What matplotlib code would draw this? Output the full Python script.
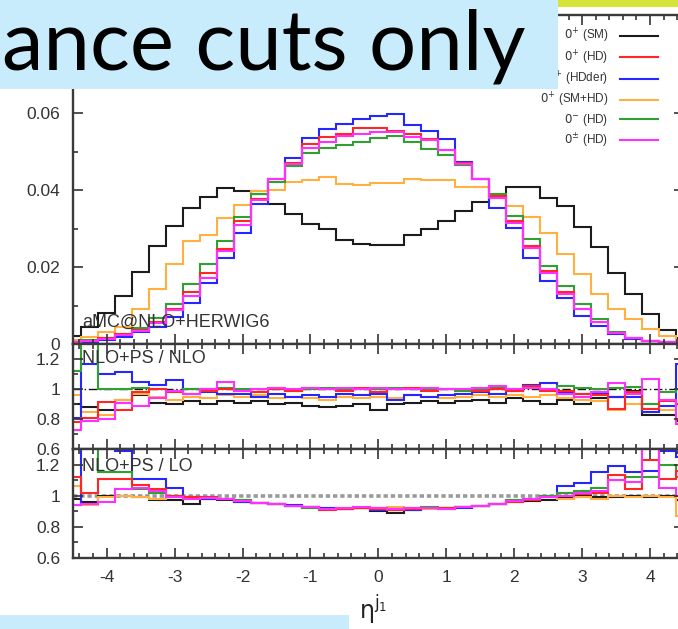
import numpy as np
import matplotlib
matplotlib.use('Agg')
import matplotlib.pyplot as plt
from matplotlib.patches import Rectangle
from matplotlib.ticker import MultipleLocator, FixedLocator, FixedFormatter

plt.rcParams['font.family'] = ['Liberation Sans', 'DejaVu Sans']
plt.rcParams['axes.unicode_minus'] = False

# ---------------- data ----------------
eta_centers = np.arange(-4.5, 4.5001, 0.25)   # bin centres, width 0.25
bin_width = 0.25

labels = [r'$0^{+}$ (SM)', r'$0^{+}$ (HD)', r'$0^{+}$ (HDder)',
          r'$0^{+}$ (SM+HD)', r'$0^{-}$ (HD)', r'$0^{\pm}$ (HD)']
colors = ['#1c1c1c', '#ff2626', '#2626ff', '#ffb040', '#30a030', '#ff30ff']

main_SM = [0.0020, 0.0045, 0.0080, 0.0125, 0.0188, 0.0255, 0.0306, 0.0354, 0.0382,
           0.0406, 0.0398, 0.0390, 0.0365, 0.0338, 0.0311, 0.0298, 0.0270, 0.0260,
           0.0256,
           0.0257, 0.0283, 0.0298, 0.0320, 0.0345, 0.0370, 0.0385, 0.0408, 0.0408,
           0.0380, 0.0358, 0.0304, 0.0252, 0.0185, 0.0130, 0.0078, 0.0036, 0.0015]
main_HD = [0.0005, 0.0009, 0.0015, 0.0025, 0.0036, 0.0058, 0.0092, 0.0135, 0.0185,
           0.0247, 0.0320, 0.0378, 0.0428, 0.0470, 0.0520, 0.0537, 0.0545, 0.0562,
           0.0562,
           0.0553, 0.0545, 0.0532, 0.0504, 0.0470, 0.0430, 0.0385, 0.0320, 0.0255,
           0.0190, 0.0135, 0.0092, 0.0057, 0.0028, 0.0015, 0.0009, 0.0005, 0.0003]
main_HDder = [0.0004, 0.0006, 0.0010, 0.0018, 0.0030, 0.0045, 0.0070, 0.0107, 0.0159,
              0.0224, 0.0289, 0.0363, 0.0428, 0.0484, 0.0536, 0.0560, 0.0572, 0.0585,
              0.0592,
              0.0597, 0.0569, 0.0553, 0.0532, 0.0474, 0.0430, 0.0354, 0.0302, 0.0224,
              0.0164, 0.0120, 0.0073, 0.0047, 0.0026, 0.0013, 0.0008, 0.0005, 0.0003]
main_SMHD = [0.0010, 0.0018, 0.0030, 0.0045, 0.0090, 0.0143, 0.0207, 0.0267, 0.0283,
             0.0328, 0.0360, 0.0397, 0.0400, 0.0422, 0.0426, 0.0435, 0.0415, 0.0413,
             0.0418,
             0.0418, 0.0429, 0.0425, 0.0425, 0.0409, 0.0408, 0.0390, 0.0358, 0.0330,
             0.0289, 0.0234, 0.0182, 0.0130, 0.0090, 0.0065, 0.0039, 0.0020, 0.0010]
main_0m = [0.0006, 0.0010, 0.0016, 0.0027, 0.0042, 0.0068, 0.0105, 0.0156, 0.0208,
           0.0268, 0.0330, 0.0390, 0.0422, 0.0462, 0.0497, 0.0510, 0.0518, 0.0525,
           0.0535,
           0.0540, 0.0525, 0.0508, 0.0490, 0.0465, 0.0430, 0.0390, 0.0332, 0.0272,
           0.0203, 0.0150, 0.0104, 0.0065, 0.0030, 0.0016, 0.0009, 0.0005, 0.0003]
main_0pm = [0.0005, 0.0008, 0.0014, 0.0023, 0.0034, 0.0055, 0.0088, 0.0125, 0.0172,
            0.0242, 0.0310, 0.0375, 0.0428, 0.0468, 0.0510, 0.0525, 0.0540, 0.0545,
            0.0550,
            0.0552, 0.0538, 0.0530, 0.0503, 0.0468, 0.0430, 0.0380, 0.0315, 0.0250,
            0.0185, 0.0130, 0.0090, 0.0057, 0.0028, 0.0015, 0.0009, 0.0005, 0.0003]

# NLO+PS / NLO
r1_SM = [0.90, 0.88, 0.86, 0.93, 0.96, 0.91, 0.90, 0.92, 0.90,
         0.92, 0.91, 0.92, 0.90, 0.91, 0.89, 0.88, 0.89, 0.90,
         0.86,
         0.90, 0.91, 0.92, 0.91, 0.92, 0.93, 0.91, 0.94, 0.92,
         0.90, 0.93, 0.90, 0.94, 0.95, 0.99, 0.83, 0.83, 0.79]
r1_HD = [0.78, 0.81, 0.915, 0.86, 0.98, 1.00, 0.98, 0.97, 0.99,
         1.00, 0.99, 0.98, 1.00, 0.99, 1.01, 1.00, 0.99, 1.01,
         0.98,
         1.00, 1.01, 0.99, 1.00, 1.00, 0.99, 1.00, 0.99, 1.02,
         0.99, 0.99, 0.97, 0.96, 0.87, 0.98, 0.87, 0.92, 0.90]
r1_HDder = [0.81, 1.17, 1.10, 1.11, 1.05, 1.03, 1.06, 1.00, 0.98,
            0.97, 0.97, 0.95, 0.97, 0.95, 0.96, 0.95, 0.97, 0.96,
            0.97,
            0.93, 0.96, 0.95, 0.96, 0.97, 0.98, 0.97, 0.99, 1.03,
            1.04, 0.98, 0.97, 0.97, 0.95, 0.95, 0.85, 0.89, 1.17]
r1_SMHD = [0.96, 0.85, 0.83, 0.93, 0.97, 0.95, 0.93, 0.95, 0.94,
           0.96, 0.95, 0.96, 0.94, 0.95, 0.94, 0.93, 0.95, 0.94,
           0.95,
           0.94, 0.96, 0.95, 0.94, 0.95, 0.96, 0.95, 0.96, 0.95,
           0.96, 0.94, 0.93, 0.92, 0.86, 0.90, 0.87, 0.86, 0.90]
r1_0m = [1.12, 1.40, 1.00, 1.00, 1.01, 1.00, 0.99, 1.00, 1.00,
         1.01, 1.00, 1.00, 1.00, 0.99, 1.00, 1.01, 1.00, 1.00,
         1.00,
         1.01, 1.00, 1.00, 1.00, 0.99, 1.00, 1.01, 1.00, 1.01,
         1.00, 1.02, 1.01, 1.00, 1.01, 1.015, 0.90, 0.98, 1.00]
r1_0pm = [0.73, 0.79, 0.80, 0.91, 0.89, 0.94, 0.99, 0.97, 1.00,
          1.05, 0.99, 1.00, 1.01, 1.00, 1.01, 1.00, 1.01, 1.00,
          1.01,
          1.00, 1.00, 1.01, 1.00, 1.00, 1.01, 1.02, 1.00, 1.01,
          1.00, 0.97, 0.95, 0.98, 1.04, 0.97, 1.07, 0.93, 0.77]

# NLO+PS / LO
r2_SM = [0.98, 0.96, 1.00, 1.00, 0.99, 0.97, 0.97, 0.95, 0.98,
         0.97, 0.96, 0.955, 0.95, 0.935, 0.925, 0.92, 0.915, 0.92,
         0.90,
         0.89, 0.91, 0.92, 0.92, 0.925, 0.935, 0.95, 0.96, 0.965,
         0.97, 0.99, 1.00, 0.99, 0.99, 1.00, 0.99, 1.00, 0.97]
r2_HD = [1.12, 1.02, 1.11, 1.11, 1.07, 1.04, 1.00, 0.99, 0.99,
         0.98, 0.965, 0.955, 0.95, 0.935, 0.925, 0.91, 0.915, 0.92,
         0.915,
         0.91, 0.915, 0.92, 0.92, 0.925, 0.935, 0.95, 0.96, 0.975,
         0.99, 1.00, 1.01, 1.02, 1.13, 1.04, 1.23, 1.11, 1.16]
r2_HDder = [0.94, 1.40, 1.35, 1.29, 1.11, 1.11, 1.05, 0.99, 0.98,
            0.98, 0.96, 0.955, 0.95, 0.94, 0.925, 0.92, 0.915, 0.92,
            0.91,
            0.915, 0.91, 0.92, 0.915, 0.92, 0.935, 0.95, 0.965, 0.98,
            1.00, 1.06, 1.08, 1.15, 1.19, 1.15, 1.16, 1.29, 1.25]
r2_SMHD = [1.06, 0.94, 0.99, 1.00, 0.99, 0.98, 0.99, 0.985, 0.99,
           0.98, 0.965, 0.955, 0.945, 0.935, 0.925, 0.915, 0.915, 0.92,
           0.92,
           0.925, 0.91, 0.915, 0.92, 0.925, 0.935, 0.95, 0.965, 0.98,
           0.99, 0.98, 0.99, 0.98, 1.00, 0.99, 1.00, 0.99, 0.87]
r2_0m = [1.30, 1.40, 1.15, 1.15, 1.04, 1.02, 1.00, 0.99, 0.985,
         0.98, 0.97, 0.955, 0.95, 0.935, 0.92, 0.915, 0.92, 0.925,
         0.915,
         0.91, 0.92, 0.925, 0.92, 0.925, 0.935, 0.95, 0.97, 0.98,
         0.995, 1.02, 1.03, 1.05, 1.10, 1.12, 1.12, 1.20, 1.12]
r2_0pm = [0.94, 0.95, 0.96, 1.04, 1.05, 1.03, 0.99, 0.98, 0.985,
          0.98, 0.965, 0.955, 0.945, 0.935, 0.925, 0.915, 0.92, 0.925,
          0.92,
          0.915, 0.92, 0.92, 0.915, 0.925, 0.935, 0.95, 0.965, 0.98,
          0.99, 1.00, 1.02, 1.03, 1.10, 1.09, 1.40, 1.05, 1.00]

main_vals = [main_SM, main_HD, main_HDder, main_SMHD, main_0m, main_0pm]
r1_vals = [r1_SM, r1_HD, r1_HDder, r1_SMHD, r1_0m, r1_0pm]
r2_vals = [r2_SM, r2_HD, r2_HDder, r2_SMHD, r2_0m, r2_0pm]
draw_order = [0, 3, 2, 4, 1, 5]

xtick_vals = [-4, -3, -2, -1, 0, 1, 2, 3, 4]
main_yticks = [0, 0.02, 0.04, 0.06]
main_ylabels = ['0', '0.02', '0.04', '0.06']
ratio_yticks = [0.6, 0.8, 1.0, 1.2]
ratio_ylabels = ['0.6', '0.8', '1', '1.2']

# ---------------- figure ----------------
W, H = 678, 629
fig = plt.figure(figsize=(W / 100, H / 100), dpi=100)
fig.patch.set_facecolor('white')

def px_axes(x0, y0, x1, y1):
    return fig.add_axes([x0 / W, 1 - y1 / H, (x1 - x0) / W, (y1 - y0) / H])

ax0 = px_axes(72.7, 15, 684, 344)
ax1 = px_axes(72.7, 344, 684, 449)
ax2 = px_axes(72.7, 449, 684, 558)

edges = np.append(eta_centers - bin_width / 2, eta_centers[-1] + bin_width / 2)
tick_col = '#333333'

for ax in (ax0, ax1, ax2):
    ax.set_xlim(-4.5, 4.5)
    ax.xaxis.set_major_locator(FixedLocator(xtick_vals))
    ax.xaxis.set_minor_locator(MultipleLocator(0.2))
    ax.tick_params(which='both', direction='in', top=True, right=True,
                   color=tick_col, width=1.2, labelsize=12.5, labelcolor=tick_col)
    ax.tick_params(which='major', length=7.5)
    ax.tick_params(which='minor', length=3.5)
    ax.tick_params(axis='y', pad=9)
    for s in ax.spines.values():
        s.set_color('#3a3a3a')
        s.set_linewidth(1.7)

handles = []
for i in draw_order:
    h = ax0.stairs(main_vals[i], edges, baseline=None, color=colors[i], lw=1.5)
    ax1.stairs(r1_vals[i], edges, baseline=None, color=colors[i], lw=1.5)
    ax2.stairs(r2_vals[i], edges, baseline=None, color=colors[i], lw=1.5)
    handles.append((i, h))
handles = [h for i, h in sorted(handles)]

ax0.set_ylim(0, 0.0855)
ax0.yaxis.set_major_locator(FixedLocator(main_yticks))
ax0.yaxis.set_major_formatter(FixedFormatter(main_ylabels))
ax0.yaxis.set_minor_locator(MultipleLocator(0.01))
ax0.tick_params(axis='x', labelbottom=False)

for ax in (ax1, ax2):
    ax.set_ylim(0.6, 1.3)
    ax.yaxis.set_major_locator(FixedLocator(ratio_yticks))
    ax.yaxis.set_major_formatter(FixedFormatter(ratio_ylabels))
    ax.yaxis.set_minor_locator(MultipleLocator(0.1))
ax1.tick_params(axis='x', labelbottom=False)
ax2.set_xticks(xtick_vals)
ax2.set_xticklabels([str(v) for v in xtick_vals])
ax2.tick_params(axis='x', pad=9)

ax1.axhline(1.0, color='#111111', lw=1.0, ls=(0, (6, 2, 1, 2)), zorder=0.5)
ax2.axhline(1.0, color='#9a9a9a', lw=2.6, ls=(0, (1.2, 0.8)), zorder=0.5)

ax0.text(-4.36, 0.0057, 'aMC@NLO+HERWIG6', fontsize=13, color='#333333', va='center')
ax1.text(-4.36, 1.203, 'NLO+PS / NLO', fontsize=13, color='#333333', va='center')
ax2.text(-4.36, 1.19, 'NLO+PS / LO', fontsize=13, color='#333333', va='center')

leg = ax0.legend(handles, labels, loc='upper right',
                 bbox_to_anchor=(658 / W, 1 - 27 / H), bbox_transform=fig.transFigure,
                 frameon=False, markerfirst=False, fontsize=8.5, handlelength=3.2,
                 handletextpad=1.0, labelspacing=0.26, borderpad=0, borderaxespad=0)
for t in leg.get_texts():
    t.set_color('#333333')

fig.text(373 / W, 1 - 610 / H, r'$\mathrm{\eta^{j_1}}$', fontsize=17, ha='center',
         va='center', color='#222222')

# slide decorations
banner = '#c8ecfb'
fig.add_artist(Rectangle((0, 1 - 89 / H), 558 / W, 89 / H, transform=fig.transFigure,
                         facecolor=banner, edgecolor='none', zorder=20))
fig.add_artist(Rectangle((558 / W, 1 - 7 / H), 120 / W, 7 / H, transform=fig.transFigure,
                         facecolor='#d6e43a', edgecolor='none', zorder=20))
fig.add_artist(Rectangle((0, 0), 349 / W, 14 / H, transform=fig.transFigure,
                         facecolor=banner, edgecolor='none', zorder=20))
fig.text(2 / W, 1 - 70 / H, 'ance cuts only', fontsize=60, family='Lato', color='black',
         ha='left', va='baseline', zorder=21)

fig.savefig('out.png', dpi=100)
